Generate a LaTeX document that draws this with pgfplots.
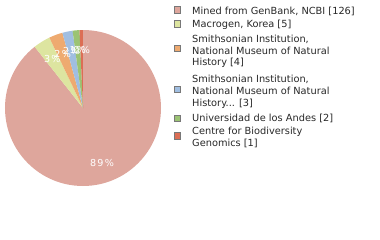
\documentclass[border=0pt]{standalone}
\usepackage{pgfplots}
\usepackage{pgfplotstable}
\pgfplotsset{compat=1.18}
\usepackage{fontspec}
\setmainfont{DejaVu Sans}

\definecolor{cA}{RGB}{222,166,156}
\definecolor{cB}{RGB}{221,229,160}
\definecolor{cC}{RGB}{238,170,112}
\definecolor{cD}{RGB}{160,190,225}
\definecolor{cE}{RGB}{155,195,115}
\definecolor{cF}{RGB}{220,110,85}
\definecolor{txt}{RGB}{40,40,40}
\definecolor{boxline}{RGB}{120,120,120}

% records per institution
\pgfplotstableread{
idx count
0 126
1 5
2 4
3 3
4 2
5 1
}\sources

\newcommand\pieradius{78bp}
\newcommand\labelradius{58bp}

\begin{document}
\begin{tikzpicture}
\path (0,0) rectangle (380bp,-240bp);
% total of all counts
\gdef\total{0}
\foreach \i in {0,...,5} {
  \pgfplotstablegetelem{\i}{count}\of\sources
  \pgfmathsetmacro\t{\total+\pgfplotsretval}
  \xdef\total{\t}
}
% slice angles (clockwise from the top) and rounded-down percentages
\gdef\ang{90}
\foreach \i in {0,...,5} {
  \pgfplotstablegetelem{\i}{count}\of\sources
  \pgfmathsetmacro\frac{\pgfplotsretval/\total}
  \pgfmathsetmacro\sweep{\frac*360}
  \pgfmathsetmacro\endang{\ang-\sweep}
  \pgfmathsetmacro\midang{\ang-\sweep/2}
  \pgfmathtruncatemacro\pct{floor(\frac*100)}
  \expandafter\xdef\csname sa\i\endcsname{\ang}
  \expandafter\xdef\csname ea\i\endcsname{\endang}
  \expandafter\xdef\csname ma\i\endcsname{\midang}
  \expandafter\xdef\csname pc\i\endcsname{\pct}
  \xdef\ang{\endang}
}
\begin{axis}[at={(83bp,-108bp)}, anchor=center, scale only axis,
  width=156bp, height=156bp, xmin=-1, xmax=1, ymin=-1, ymax=1,
  hide axis, clip=false]
\pgfplotsextra{
  \foreach \i/\c in {0/cA,1/cB,2/cC,3/cD,4/cE,5/cF} {
    \edef\s{\csname sa\i\endcsname}\edef\e{\csname ea\i\endcsname}
    \fill[\c] (axis cs:0,0) -- ([shift={(\s:\pieradius)}]axis cs:0,0)
      arc[start angle=\s, end angle=\e, radius=\pieradius] -- cycle;
  }
  \foreach \i in {0,...,5} {
    \edef\m{\csname ma\i\endcsname}
    \node[text=white, inner sep=0pt, font=\fontsize{9.6bp}{10bp}\selectfont\addfontfeature{LetterSpace=14}]
      at ([shift={(\m:\labelradius)}]axis cs:0,0) {\csname pc\i\endcsname\%};
  }
}
\end{axis}

% legend
\tikzset{lbox/.style={draw=boxline, line width=0.9bp, minimum size=6.4bp, inner sep=0pt},
         ltxt/.style={anchor=base west, inner sep=0pt, text=txt, font=\fontsize{9.8bp}{12bp}\selectfont}}
\foreach \y/\c in {10/cA,24/cB,48.3/cC,89.3/cD,118.3/cE,136/cF}
  \node[lbox, fill=\c] at (177.5bp,-\y bp) {};
\foreach \y/\t in {10.7/{Mined from GenBank, NCBI [126]},
                   24/{Macrogen, Korea [5]},
                   38.7/{Smithsonian Institution,},
                   50.7/{National Museum of Natural},
                   62.3/{History [4]},
                   79.3/{Smithsonian Institution,},
                   91/{National Museum of Natural},
                   103.3/{History... [3]},
                   118.3/{Universidad de los Andes [2]},
                   131.3/{Centre for Biodiversity},
                   143.3/{Genomics [1]}}
  \node[ltxt] at (192bp,-\y bp-3.6bp) {\t};
\end{tikzpicture}
\end{document}
